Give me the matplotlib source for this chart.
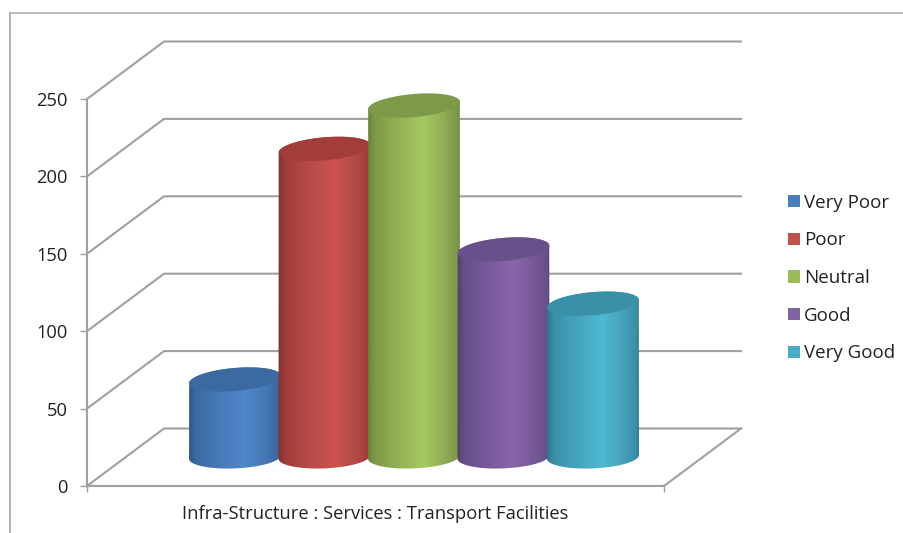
import numpy as np
import matplotlib
matplotlib.use("Agg")
import matplotlib.pyplot as plt
from matplotlib.colors import LinearSegmentedColormap
from matplotlib.lines import Line2D
from matplotlib.patches import Patch, PathPatch, Polygon
from matplotlib.path import Path

plt.rcParams['font.family'] = ['Open Sans', 'DejaVu Sans']

series_names = ["Very Poor", "Poor", "Neutral", "Good", "Very Good"]
series_values = [49, 198, 226, 133, 98]
category_label = "Infra-Structure : Services : Transport Facilities"
value_ticks = [0, 50, 100, 150, 200, 250]
legend_colors = ["#4A7EBB", "#C0504D", "#9BBB59", "#8064A2", "#4BACC6"]
mid_colors = ["#4F87CC", "#CC5250", "#A6C95F", "#8966AB", "#4FB9D3"]
shade_colors = ["#4678B4", "#B44A48", "#90AE54", "#75599B", "#44A1BA"]
edge_colors = ["#2F5585", "#7E3230", "#66803A", "#523F6E", "#2F7286"]
top_colors = ["#3A6A9F", "#A23D3B", "#7C9A47", "#68508A", "#3A90A8"]

W, H = 904, 533
LEFT, RIGHT, TOP, BOTTOM = 87, 664, 99, 486
DX = 77
DY_PX = 57.5
GREY = "#A0A0A0"

fig = plt.figure(figsize=(W / 100, H / 100), dpi=100, facecolor="white")
ax = fig.add_axes([LEFT / W, (H - BOTTOM) / H, (RIGHT - LEFT) / W, (BOTTOM - TOP) / H])
ax.set_facecolor("none")
K = (BOTTOM - TOP) / 250
DY = DY_PX / K

# chart frame
fig.add_artist(Line2D([10 / W, 10 / W], [0, 1 - 13 / H], color="#ABABAB", lw=1.3))
fig.add_artist(Line2D([10 / W, 1], [1 - 13 / H, 1 - 13 / H], color="#ABABAB", lw=1.1))

# walls and floor
for v in value_ticks:
    ax.plot([0, DX, RIGHT - LEFT + DX], [v, v + DY, v + DY], color=GREY, lw=1.5,
            clip_on=False, zorder=1, solid_joinstyle="miter")
ax.plot([RIGHT - LEFT, RIGHT - LEFT + DX], [0, DY], color=GREY, lw=1.5, clip_on=False, zorder=1)


def ellipse(cx, cv, a, b, theta, t):
    x = cx + a * np.cos(t) * np.cos(theta) - b * np.sin(t) * np.sin(theta)
    y = (a * np.cos(t) * np.sin(theta) + b * np.sin(t) * np.cos(theta)) / K
    return np.column_stack([x, cv + y])


BAR_W = 92
STEP = 89.5
X0 = 189 - LEFT + BAR_W / 2
BASE = 18.8
TOP_OFFSET = 1.0
SEMI_B = 11.5
TILT_TOP = np.deg2rad(5)
TILT_LOW = np.deg2rad(2.5)

for i, val in enumerate(series_values):
    cx = X0 + i * STEP
    a = BAR_W / 2
    cap_top = val + BASE + TOP_OFFSET
    t_low = np.linspace(np.pi, 2 * np.pi, 80)
    t_up = np.linspace(0, np.pi, 80)
    low = ellipse(cx, BASE, a, SEMI_B, TILT_LOW, t_low)
    up = ellipse(cx, cap_top, a, SEMI_B, TILT_TOP, t_up)
    outline = np.vstack([low, up, low[:1]])
    z = 3 + i
    cmap = LinearSegmentedColormap.from_list(
        "c", [(0, edge_colors[i]), (0.08, top_colors[i]), (0.3, shade_colors[i]),
              (0.6, mid_colors[i]), (0.82, shade_colors[i]), (0.96, top_colors[i]),
              (1, edge_colors[i])])
    img = ax.imshow(np.linspace(0, 1, 200)[None, :], cmap=cmap, aspect="auto",
                    extent=[cx - a - 1, cx + a + 1, BASE - 20, cap_top + 20],
                    zorder=z, interpolation="bilinear")
    img.set_clip_path(PathPatch(Path(outline), transform=ax.transData))
    cap = ellipse(cx, cap_top, a, SEMI_B, TILT_TOP, np.linspace(0, 2 * np.pi, 160))
    ax.add_patch(Polygon(cap, closed=True, facecolor=top_colors[i], edgecolor="none",
                         clip_on=False, zorder=z + 0.5))

ax.set_xlim(0, RIGHT - LEFT)
ax.set_ylim(0, 250)
ax.set_yticks(value_ticks)
ax.set_xticks([0, RIGHT - LEFT])
ax.set_xticklabels([])
ax.set_xticks([(RIGHT - LEFT) / 2], [category_label], minor=True)
ax.tick_params(axis="y", length=5, width=1, color=GREY, labelsize=13.2, pad=9, labelcolor="#222222")
ax.tick_params(axis="x", which="major", length=4, width=1, color=GREY)
ax.tick_params(axis="x", which="minor", length=0, labelsize=13.2, pad=14, labelcolor="#222222")
for side in ["top", "right"]:
    ax.spines[side].set_visible(False)
for side in ["left", "bottom"]:
    ax.spines[side].set_color(GREY)
    ax.spines[side].set_linewidth(1.5)

handles = [Patch(facecolor=c, edgecolor="none") for c in legend_colors]
fig.legend(handles, series_names, loc="center left",
           bbox_to_anchor=(788 / W, 1 - 278 / H), frameon=False,
           fontsize=13.5, handlelength=0.64, handleheight=0.64, handletextpad=0.2,
           labelspacing=1.05, borderpad=0, borderaxespad=0, labelcolor="#222222")

fig.savefig("out.png", dpi=100)
